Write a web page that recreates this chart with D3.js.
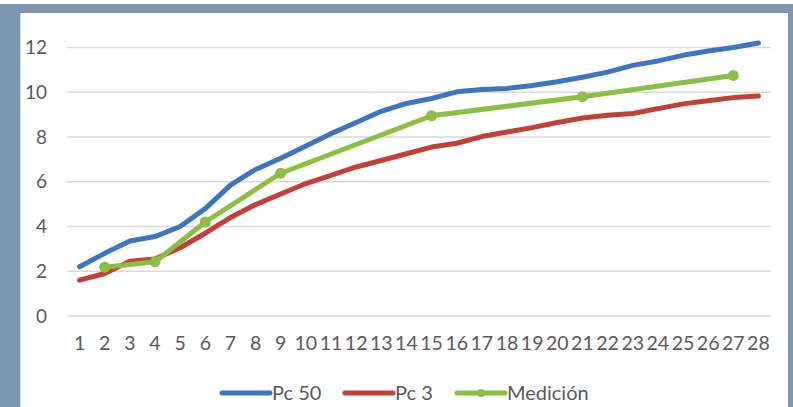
<!DOCTYPE html>
<html>
<head>
<meta charset="utf-8">
<script src="https://cdn.jsdelivr.net/npm/d3@7"></script>
<style>
  html, body { margin: 0; padding: 0; background: #ffffff; }
  svg { display: block; }
  text { font-family: Lato, "Open Sans", sans-serif; fill: #595959; }
</style>
</head>
<body>
<svg id="chart" width="793" height="407"></svg>
<script>
// Age in months
const months = d3.range(1, 29);
// Weight percentiles and measurements (kg)
const pc50 = [2.2, 2.8, 3.35, 3.55, 4.0, 4.8, 5.85, 6.55, 7.05, 7.6, 8.15, 8.65, 9.15, 9.5, 9.72, 10.02, 10.12, 10.17, 10.3, 10.47, 10.67, 10.9, 11.2, 11.4, 11.65, 11.84, 12.0, 12.2];
const pc3 = [1.6, 1.9, 2.45, 2.55, 3.05, 3.7, 4.4, 4.98, 5.45, 5.92, 6.28, 6.66, 6.95, 7.25, 7.55, 7.72, 8.02, 8.22, 8.42, 8.65, 8.85, 8.97, 9.05, 9.27, 9.48, 9.62, 9.76, 9.83];
const medicion = [null, 2.18, null, 2.42, null, 4.2, null, null, 6.38, null, null, null, null, null, 8.95, null, null, null, null, null, 9.8, null, null, null, null, null, 10.75, null];
const yTicks = [0, 2, 4, 6, 8, 10, 12];

const seriesNames = ["Pc 50", "Pc 3", "Medición"];
const seriesColors = ["#3e75c1", "#c43e3b", "#8dbd43"];

const svg = d3.select("#chart");
const W = 793, H = 407;

// Frame around the chart
const frame = "#7c97ae";
svg.append("rect").attr("x", 0).attr("y", 4).attr("width", W).attr("height", 9).attr("fill", frame);
svg.append("rect").attr("x", 0).attr("y", 4).attr("width", 20).attr("height", H - 4).attr("fill", frame);
svg.append("rect").attr("x", 788).attr("y", 4).attr("width", 5).attr("height", H - 4).attr("fill", frame);
svg.append("line").attr("x1", 20.5).attr("x2", 20.5).attr("y1", 13).attr("y2", H).attr("stroke", "#d2dde7").attr("stroke-width", 1);

const plot = { left: 67, right: 771, top: 47.5, bottom: 316 };

const x = d3.scaleBand().domain(months).range([plot.left, plot.right]);
const y = d3.scaleLinear().domain([0, 12]).range([plot.bottom, plot.top]);
const cx = d => x(d) + x.bandwidth() / 2;

// Horizontal gridlines
svg.append("g")
  .selectAll("line")
  .data(yTicks)
  .join("line")
  .attr("x1", plot.left).attr("x2", plot.right)
  .attr("y1", d => y(d)).attr("y2", d => y(d))
  .attr("stroke", "#d9d9d9").attr("stroke-width", 1.5);

// Y axis labels
const yAxis = svg.append("g")
  .attr("transform", `translate(${plot.left - 20},0)`)
  .call(d3.axisLeft(y).tickValues(yTicks).tickSize(0).tickPadding(0));
yAxis.select(".domain").remove();
yAxis.selectAll("text").style("font-size", "19px").attr("fill", "#595959").style("font-family", "Lato, sans-serif");

// X axis labels
const xAxis = svg.append("g")
  .attr("transform", `translate(0,${plot.bottom + 20})`)
  .call(d3.axisBottom(x).tickSize(0).tickPadding(0));
xAxis.select(".domain").remove();
xAxis.selectAll("text").style("font-size", "19.5px").attr("fill", "#595959").style("font-family", "Lato, sans-serif");

// Lines
const line = d3.line()
  .defined(d => d.v != null)
  .x(d => cx(d.m))
  .y(d => y(d.v));

const series = [pc50, pc3, medicion].map((vals, i) => ({
  name: seriesNames[i],
  color: seriesColors[i],
  pts: months.map((m, j) => ({ m, v: vals[j] })).filter(d => d.v != null)
}));

svg.append("g")
  .selectAll("path")
  .data(series)
  .join("path")
  .attr("d", s => line(s.pts))
  .attr("fill", "none")
  .attr("stroke", s => s.color)
  .attr("stroke-width", 5)
  .attr("stroke-linejoin", "round")
  .attr("stroke-linecap", "round");

// Measurement markers
svg.append("g")
  .selectAll("circle")
  .data(series[2].pts)
  .join("circle")
  .attr("cx", d => cx(d.m))
  .attr("cy", d => y(d.v))
  .attr("r", 5.5)
  .attr("fill", seriesColors[2]);

// Legend
const legendItems = [
  { x: 222, name: seriesNames[0], color: seriesColors[0], marker: false },
  { x: 345, name: seriesNames[1], color: seriesColors[1], marker: false },
  { x: 457, name: seriesNames[2], color: seriesColors[2], marker: true }
];
const lg = svg.append("g").attr("transform", "translate(0,393)");
legendItems.forEach(it => {
  lg.append("line")
    .attr("x1", it.x).attr("x2", it.x + 48)
    .attr("y1", 0).attr("y2", 0)
    .attr("stroke", it.color).attr("stroke-width", 5).attr("stroke-linecap", "round");
  if (it.marker) {
    lg.append("circle").attr("cx", it.x + 24).attr("cy", 0).attr("r", 4).attr("fill", it.color);
  }
  lg.append("text")
    .attr("x", it.x + 50).attr("y", 0).attr("dy", "0.35em")
    .style("font-size", "20px")
    .text(it.name);
});
</script>
</body>
</html>
